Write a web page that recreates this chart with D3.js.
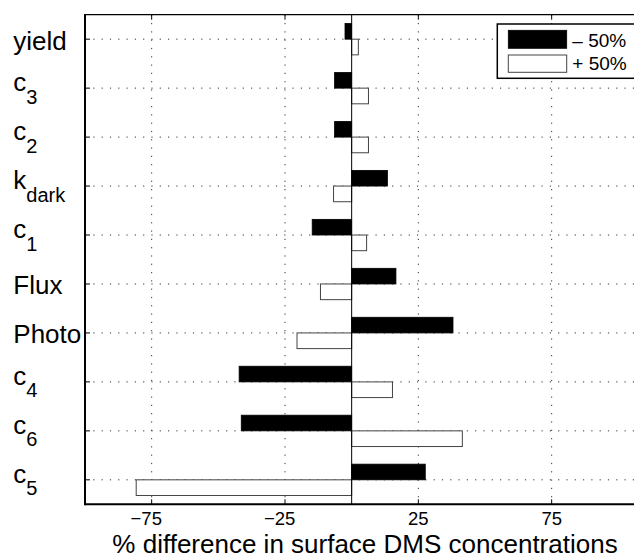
<!DOCTYPE html>
<html>
<head>
  <meta http-equiv="Content-Type" content="text/html;charset=utf-8">
  <title>DMS sensitivity</title>
  <script src="https://d3js.org/d3.v7.min.js"></script>
  <style type="text/css">
    body { margin: 0; background: #fff; }
    text { font-family: "Liberation Sans", Arial, Helvetica, sans-serif; fill: #000; }
    .grid { stroke: #333; stroke-width: 1px; stroke-dasharray: 1.2,7.1; }
  </style>
</head>
<body>
  <svg width="634" height="559"></svg>
  <script type='text/javascript'>
    // parameter names (main text + subscript), top to bottom
    const labelMain = ['yield', 'c', 'c', 'k', 'c', 'Flux', 'Photo', 'c', 'c', 'c'];
    const labelSub  = ['', '3', '2', 'dark', '1', '', '', '4', '6', '5'];
    // % change in surface DMS for -50% and +50% perturbation
    const minus50 = [-2.5, -6.4, -6.4, 13.4, -14.8, 16.6, 38.0, -42.2, -41.4, 27.6];
    const plus50  = [2.5, 6.3, 6.3, -6.8, 5.6, -11.7, -20.5, 15.3, 41.5, -80.8];
    const xTicks = [-75, -25, 25, 75];
    const seriesNames = ['\u2013 50%', '+ 50%'];

    const svg = d3.select('svg');
    const plotL = 85, plotT = 14.7, plotB = 504.3;

    const x = d3.scaleLinear().domain([-100, 110]).range([plotL, 645]);
    const y = d3.scaleLinear().domain([0.5, 10.5]).range([plotT, plotB]);
    const rowH = y(2) - y(1);
    const barH = rowH * 0.32;
    const idx = d3.range(labelMain.length);

    // dotted grid
    svg.selectAll('line.gx').data(xTicks).enter().append('line')
      .attr('class', 'grid')
      .attr('x1', (d) => x(d)).attr('x2', (d) => x(d))
      .attr('y1', plotT).attr('y2', plotB);
    svg.selectAll('line.gy').data(idx).enter().append('line')
      .attr('class', 'grid')
      .attr('x1', plotL).attr('x2', 634)
      .attr('y1', (i) => y(i + 1)).attr('y2', (i) => y(i + 1));

    // bars: -50% above the tick, +50% below
    svg.selectAll('rect.m').data(idx).enter().append('rect')
      .attr('x', (i) => x(Math.min(0, minus50[i])))
      .attr('width', (i) => Math.abs(x(minus50[i]) - x(0)))
      .attr('y', (i) => y(i + 1) - barH)
      .attr('height', barH)
      .attr('fill', '#000').attr('stroke', '#000').attr('stroke-width', 0.8);
    svg.selectAll('rect.p').data(idx).enter().append('rect')
      .attr('x', (i) => x(Math.min(0, plus50[i])))
      .attr('width', (i) => Math.abs(x(plus50[i]) - x(0)))
      .attr('y', (i) => y(i + 1))
      .attr('height', barH)
      .attr('fill', '#fff').attr('stroke', '#444').attr('stroke-width', 1);

    // zero baseline
    svg.append('line')
      .attr('x1', x(0)).attr('x2', x(0)).attr('y1', plotT).attr('y2', plotB)
      .attr('stroke', '#000').attr('stroke-width', 1);

    // tick marks
    svg.selectAll('line.tb').data(xTicks).enter().append('line')
      .attr('x1', (d) => x(d)).attr('x2', (d) => x(d))
      .attr('y1', plotB).attr('y2', plotB - 5)
      .attr('stroke', '#000');
    svg.selectAll('line.tt').data(xTicks).enter().append('line')
      .attr('x1', (d) => x(d)).attr('x2', (d) => x(d))
      .attr('y1', plotT).attr('y2', plotT + 5)
      .attr('stroke', '#000');
    svg.selectAll('line.ty').data(idx).enter().append('line')
      .attr('x1', plotL).attr('x2', plotL + 5)
      .attr('y1', (i) => y(i + 1)).attr('y2', (i) => y(i + 1))
      .attr('stroke', '#000');

    // axis box (left, bottom, top)
    svg.append('line').attr('x1', plotL).attr('x2', 634).attr('y1', plotT).attr('y2', plotT)
      .attr('stroke', '#000').attr('stroke-width', 1.3);
    svg.append('line').attr('x1', plotL).attr('x2', 634).attr('y1', plotB).attr('y2', plotB)
      .attr('stroke', '#000').attr('stroke-width', 2);
    svg.append('line').attr('x1', plotL).attr('x2', plotL).attr('y1', plotT - 0.6).attr('y2', plotB + 1)
      .attr('stroke', '#000').attr('stroke-width', 2);

    // x tick labels (digits centred on tick, minus hangs left)
    svg.selectAll('text.xt').data(xTicks).enter().append('text')
      .attr('x', (d) => x(d) + 10.3)
      .attr('y', 525)
      .attr('text-anchor', 'end')
      .style('font-size', '18.5px')
      .text((d) => (d < 0 ? '\u2212' : '') + Math.abs(d));

    // x axis title
    svg.append('text')
      .attr('x', 365).attr('y', 553)
      .attr('text-anchor', 'middle')
      .style('font-size', '26px')
      .text('% difference in surface DMS concentrations');

    // y labels with subscripts
    const yl = svg.selectAll('text.yl').data(idx).enter().append('text')
      .attr('x', 13.3)
      .attr('y', (i) => y(i + 1) + (labelSub[i] ? 3 : 10.5))
      .style('font-size', '26px');
    yl.append('tspan').text((i) => labelMain[i]);
    yl.filter((i) => labelSub[i]).append('tspan')
      .attr('dy', 12.5)
      .style('font-size', '20px')
      .text((i) => labelSub[i]);

    // legend
    const lg = svg.append('g');
    lg.append('rect')
      .attr('x', 497.3).attr('y', 24).attr('width', 150).attr('height', 54.3)
      .attr('fill', '#fff').attr('stroke', '#000').attr('stroke-width', 1.5);
    lg.append('rect')
      .attr('x', 508.3).attr('y', 30.3).attr('width', 58.4).attr('height', 18)
      .attr('fill', '#000').attr('stroke', '#000').attr('stroke-width', 0.8);
    lg.append('rect')
      .attr('x', 508.3).attr('y', 55).attr('width', 58.4).attr('height', 17.3)
      .attr('fill', '#fff').attr('stroke', '#444').attr('stroke-width', 1);
    lg.selectAll('text').data(seriesNames).enter().append('text')
      .attr('x', 572.3)
      .attr('y', (d, i) => i === 0 ? 46.7 : 70.3)
      .style('font-size', '19px')
      .text((d) => d);
  </script>
</body>
</html>
